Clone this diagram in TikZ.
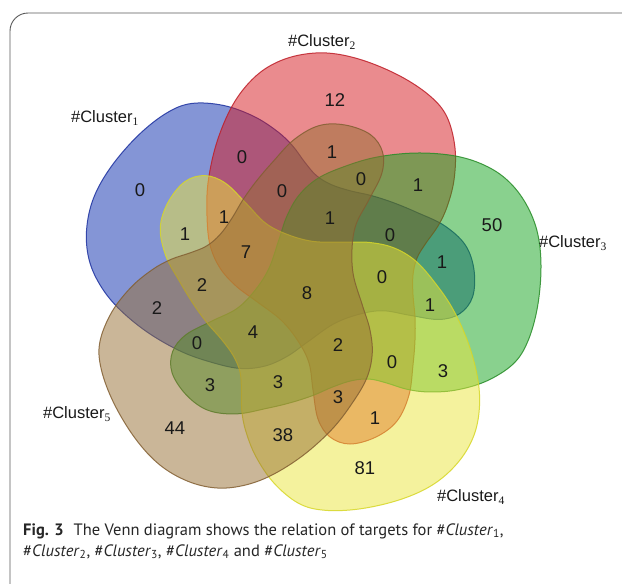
\documentclass[tikz,border=0pt]{standalone}
\usepackage{fontspec}
\setmainfont{Liberation Sans}
\newfontfamily\subfont{Liberation Serif}
\newfontfamily\capfont{PT Sans}
\definecolor{cA}{RGB}{10,45,175}
\definecolor{cAd}{RGB}{30,50,160}
\definecolor{cB}{RGB}{215,25,30}
\definecolor{cBd}{RGB}{190,30,40}
\definecolor{cC}{RGB}{20,165,30}
\definecolor{cCd}{RGB}{40,140,40}
\definecolor{cD}{RGB}{235,230,60}
\definecolor{cDd}{RGB}{215,215,40}
\definecolor{cE}{RGB}{150,110,50}
\definecolor{cEd}{RGB}{130,95,50}
\definecolor{framegray}{RGB}{90,90,90}
\newcommand\vsub[1]{\textsubscript{\subfont #1}}
\newcommand\csub[1]{\textsubscript{#1}}
\tikzset{
  setshape/.style={fill opacity=0.5, draw opacity=0.85, line width=1pt},
  num/.style={font=\fontsize{18.5}{18.5}\selectfont, text=black!90, inner sep=0pt},
  clab/.style={font=\fontsize{16.5}{17}\selectfont, text=black!90, inner sep=0pt},
  capline/.style={font=\capfont\fontsize{16.5}{18}\selectfont, text=black!85, anchor=base west, inner sep=0pt}
}
\begin{document}
\begin{tikzpicture}[x=1pt,y=-1pt]
\useasboundingbox (0,0) rectangle (622,584);
\fill[white] (0,0) rectangle (622,584);
\draw[framegray, line width=0.9pt, rounded corners=18pt] (10,700) -- (10,13) -- (700,13);
% five sets: the same pear shape rotated about the centre
\foreach \ang/\fc/\dc in {72/cA/cAd, 0/cB/cBd, -72/cC/cCd, -144/cD/cDd, 144/cE/cEd}{
  \begin{scope}[rotate around={\ang:(310,286)}]
  \filldraw[setshape, fill=\fc, draw=\dc] plot[smooth cycle, tension=0.6] coordinates {
    (327,53) (362,60) (400,76) (430,96) (447,117) (455,148) (454,180) (447,207)
    (438,226) (426,243) (417,258) (413,275) (413,295) (415,317) (415,340) (413,365)
    (409,395) (397,421) (376,437) (350,444) (330,437) (318,419) (313,390) (309,363)
    (298,341) (281,320) (256,301) (236,286) (220,268) (210,245) (207,216) (208,183)
    (216,145) (230,110) (247,85) (268,67) (295,56)};
  \end{scope}
}
% set labels
\node[clab] (l1) at (105,118) {\#Cluster\vsub{1}};
\node[clab] (l2) at (322,42) {\#Cluster\vsub{2}};
\node[clab] (l3) at (573,243) {\#Cluster\vsub{3}};
\node[clab] (l4) at (471,497) {\#Cluster\vsub{4}};
\node[clab] (l5) at (77,414) {\#Cluster\vsub{5}};
% region counts
\node[num] (n01) at (140,190) {0};
\node[num] (n02) at (335,100) {12};
\node[num] (n03) at (492,225) {50};
\node[num] (n04) at (365,468) {81};
\node[num] (n05) at (175,428) {44};
\node[num] (n06) at (242,157) {0};
\node[num] (n07) at (332,152) {1};
\node[num] (n08) at (282,191) {0};
\node[num] (n09) at (361,179) {0};
\node[num] (n10) at (418,185) {1};
\node[num] (n11) at (185,234) {1};
\node[num] (n12) at (224,217) {1};
\node[num] (n13) at (246,252) {7};
\node[num] (n14) at (330,218) {1};
\node[num] (n15) at (390,235) {0};
\node[num] (n16) at (442,262) {1};
\node[num] (n17) at (202,285) {2};
\node[num] (n18) at (307,293) {8};
\node[num] (n19) at (382,277) {0};
\node[num] (n20) at (157,308) {2};
\node[num] (n21) at (430,305) {1};
\node[num] (n22) at (197,343) {0};
\node[num] (n23) at (253,332) {4};
\node[num] (n24) at (338,345) {2};
\node[num] (n25) at (392,362) {0};
\node[num] (n26) at (443,371) {3};
\node[num] (n27) at (210,385) {3};
\node[num] (n28) at (278,382) {3};
\node[num] (n29) at (338,397) {3};
\node[num] (n30) at (375,418) {1};
\node[num] (n31) at (283,435) {38};
% caption
\node[capline] (cap1) at (23,535) {\textbf{Fig. 3}\hspace{0.6em}The Venn diagram shows the relation of targets for \#\textit{Cluster}\csub{1},};
\node[capline] (cap2) at (23,556) {\#\textit{Cluster}\csub{2}, \#\textit{Cluster}\csub{3}, \#\textit{Cluster}\csub{4} and \#\textit{Cluster}\csub{5}};
\end{tikzpicture}
\end{document}
